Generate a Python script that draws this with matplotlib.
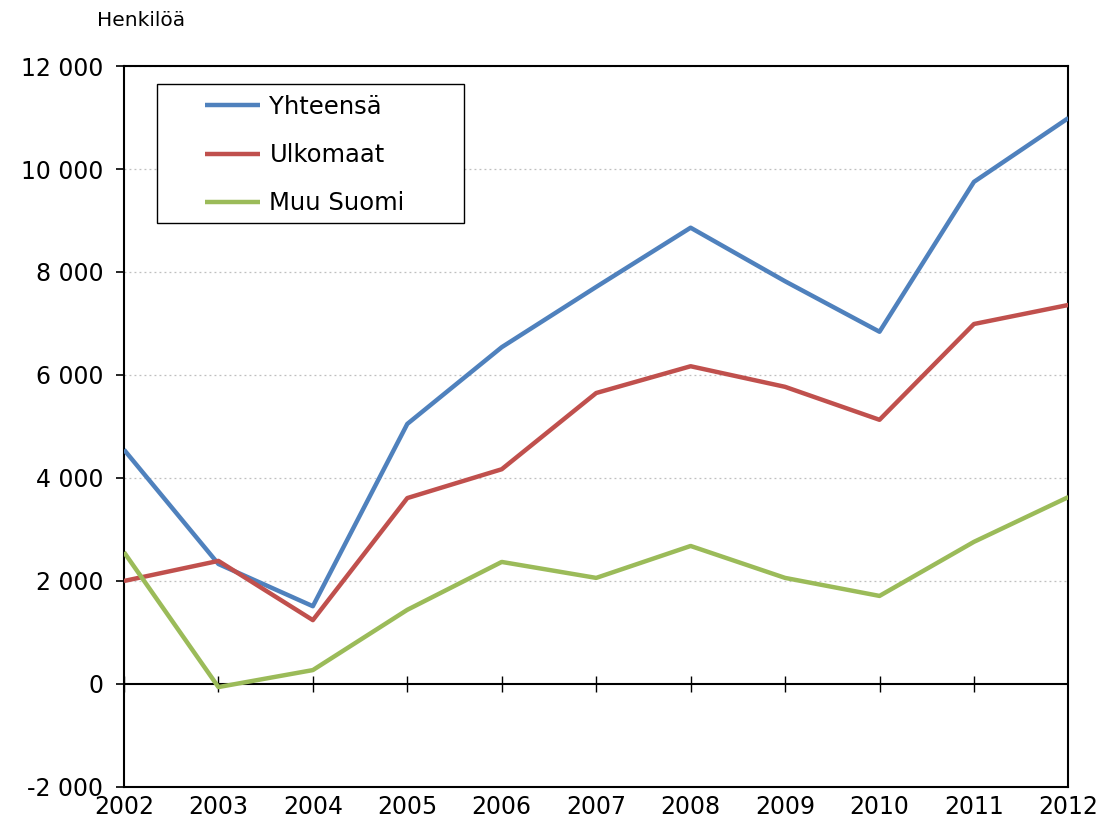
import matplotlib
matplotlib.use("Agg")
from matplotlib import pyplot as plt
from matplotlib.patches import Rectangle
from matplotlib.ticker import FuncFormatter

plt.rcParams['font.family'] = ['DejaVu Sans']

years = list(range(2002, 2013))
yhteensa = [4550, 2330, 1510, 5050, 6540, 7710, 8860, 7820, 6840, 9750, 10990]
ulkomaat = [2000, 2390, 1240, 3610, 4170, 5650, 6170, 5770, 5130, 6990, 7360]
muu_suomi = [2560, -60, 270, 1440, 2370, 2060, 2680, 2060, 1710, 2760, 3630]

labels = ['Yhteensä', 'Ulkomaat', 'Muu Suomi']
colors = ['#4F81BD', '#C0504D', '#9BBB59']

fig = plt.figure(figsize=(11.02, 8.22), dpi=100)
ax = fig.add_axes([0.1125, 0.0426, 0.857, 0.8771])

for series, lab, col in zip([yhteensa, ulkomaat, muu_suomi], labels, colors):
    ax.plot(years, series, color=col, lw=3.2, label=lab, solid_capstyle='butt', zorder=3)

ax.set_xlim(2002, 2012)
ax.set_ylim(-2000, 12000)
ax.set_yticks(range(-2000, 12001, 2000))
ax.yaxis.set_major_formatter(FuncFormatter(lambda v, p: f'{int(v):,}'.replace(',', ' ')))
ax.set_xticks(years)

# dotted grid, solid zero line
for v in range(2000, 12001, 2000):
    ax.axhline(v, color='#BFBFBF', lw=0.9, ls=(0, (1.5, 2.5)), zorder=1)
ax.axhline(0, color='black', lw=1.5, zorder=2)

for s in ax.spines.values():
    s.set_linewidth(1.5)
    s.set_color('black')

ax.tick_params(axis='y', direction='out', length=6, width=1.2, pad=9, labelsize=17)
ax.tick_params(axis='x', length=0, pad=6, labelsize=17)

# ticks on the zero line
sec = ax.secondary_xaxis(2000 / 14000)
sec.set_xticks(years[:-1])
sec.set_xticklabels([])
sec.spines['bottom'].set_visible(False)
sec.tick_params(direction='inout', length=12, width=1.0)

# legend with its own frame
ax.add_patch(Rectangle((0.035, 0.782), 0.325, 0.193, transform=ax.transAxes,
                       fill=True, facecolor='white', edgecolor='black', lw=1.0, zorder=4))
leg = ax.legend(loc='upper left', bbox_to_anchor=(0.0858, 0.960), frameon=False,
                fontsize=17.5, handlelength=2.25, handletextpad=0.4, labelspacing=1.0,
                borderpad=0, borderaxespad=0)
leg.set_zorder(5)

fig.text(97 / 1102, 1 - 20 / 822, 'Henkilöä', fontsize=14.5, va='center', ha='left')

fig.savefig('out.png', dpi=100)
